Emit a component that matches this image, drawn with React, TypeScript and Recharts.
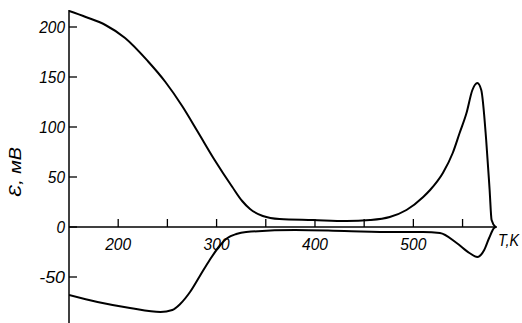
import React from 'react';
import {
  ComposedChart, Line, Scatter, XAxis, YAxis, ReferenceLine, Label,
} from 'recharts';

// верхняя кривая (нагрев), T в K, ЭДС в мВ
const upperT = [150, 167, 187, 207, 230, 248, 265, 281, 298, 316, 326, 334, 347, 364, 398, 432, 456, 476, 493, 510, 517, 530, 540, 547, 554, 560, 565, 569, 574, 577.5, 579.5, 583.5];
const upperE = [216, 210, 202, 189, 166, 145, 121, 95, 67, 40, 26, 18, 11, 8, 7, 6, 7, 10, 17, 30, 37, 54, 74, 94, 114, 137, 144, 137, 87, 37, 7, 0];

// нижняя кривая
const lowerT = [150, 179, 212, 243, 255, 263, 273, 283, 293, 303, 311, 320, 330, 380, 430, 480, 510, 527, 544, 557, 565, 572, 577, 582, 584];
const lowerE = [-68, -75, -81, -85, -83, -77, -65, -49, -33, -19, -11, -7, -5, -3, -4, -5, -5, -6, -16, -26, -30, -23, -11, -1, 0];

const xTicks = [200, 250, 300, 350, 400, 450, 500, 550];
const xLabels = [200, 300, 400, 500];
const yTicks = [-50, 0, 50, 100, 150, 200];

const upper = upperT.map((T, i) => ({ T, v: upperE[i] }));
const lower = lowerT.map((T, i) => ({ T, v: lowerE[i] }));
const tickMarks = xTicks.map((T) => ({ T, v: 0 }));

const FONT = '"Liberation Sans", sans-serif';

// узкий курсив, как в книге: сжимаем текст по ширине
const Txt = ({ children, w, ...rest }: any) => (
  <text fontFamily={FONT} fontStyle="italic" fontSize={17} fill="#000" textLength={w} lengthAdjust="spacingAndGlyphs" {...rest}>
    {children}
  </text>
);

const YTick = ({ x, y, payload }: any) => (
  <g>
    <line x1={x} y1={y} x2={x + 8} y2={y} stroke="#000" strokeWidth={1.3} />
    <Txt x={x - 4} y={y} dy="0.35em" textAnchor="end" w={String(payload.value).length * 8.6}>
      {payload.value}
    </Txt>
  </g>
);

const XTickShape = ({ cx, cy, payload }: any) => (
  <g>
    <line x1={cx} y1={cy} x2={cx} y2={cy - 8} stroke="#000" strokeWidth={1.3} />
    {xLabels.includes(payload.T) && (
      <Txt x={cx} y={cy + 17} dy="0.35em" textAnchor="middle" w={26}>
        {payload.T}
      </Txt>
    )}
  </g>
);

const YLabel = ({ viewBox }: any) => {
  const x = viewBox.x + 15;
  const y = viewBox.y + 162;
  return (
    <Txt x={x} y={y} transform={`rotate(-90 ${x} ${y})`} dy="0.35em" textAnchor="middle" w={50}>
      Ɛ, мВ
    </Txt>
  );
};

const TLabel = ({ viewBox }: any) => (
  <Txt x={viewBox.x + viewBox.width + 1} y={viewBox.y + 19} w={21}>
    T,K
  </Txt>
);

export default function App() {
  return (
    <div style={{ position: 'absolute', left: 0, top: 0, background: '#fff' }}>
      <ComposedChart width={522} height={323} margin={{ top: 10, right: 25, bottom: 0, left: 0 }}>
        <XAxis dataKey="T" type="number" domain={[150, 585]} allowDataOverflow hide />
        <YAxis
          type="number"
          domain={[-96, 217]}
          allowDataOverflow
          width={69}
          ticks={yTicks}
          interval={0}
          tickSize={0}
          tickMargin={0}
          tickLine={false}
          axisLine={{ stroke: '#000', strokeWidth: 1.5 }}
          tick={<YTick />}
        >
          <Label content={<YLabel />} />
        </YAxis>
        <ReferenceLine y={0} stroke="#000" strokeWidth={1.5} label={<TLabel />} />
        <Line data={upper} dataKey="v" type="monotone" stroke="#000" strokeWidth={2} dot={false} isAnimationActive={false} />
        <Line data={lower} dataKey="v" type="monotone" stroke="#000" strokeWidth={2} dot={false} isAnimationActive={false} />
        <Scatter data={tickMarks} dataKey="v" shape={<XTickShape />} isAnimationActive={false} />
      </ComposedChart>
    </div>
  );
}
